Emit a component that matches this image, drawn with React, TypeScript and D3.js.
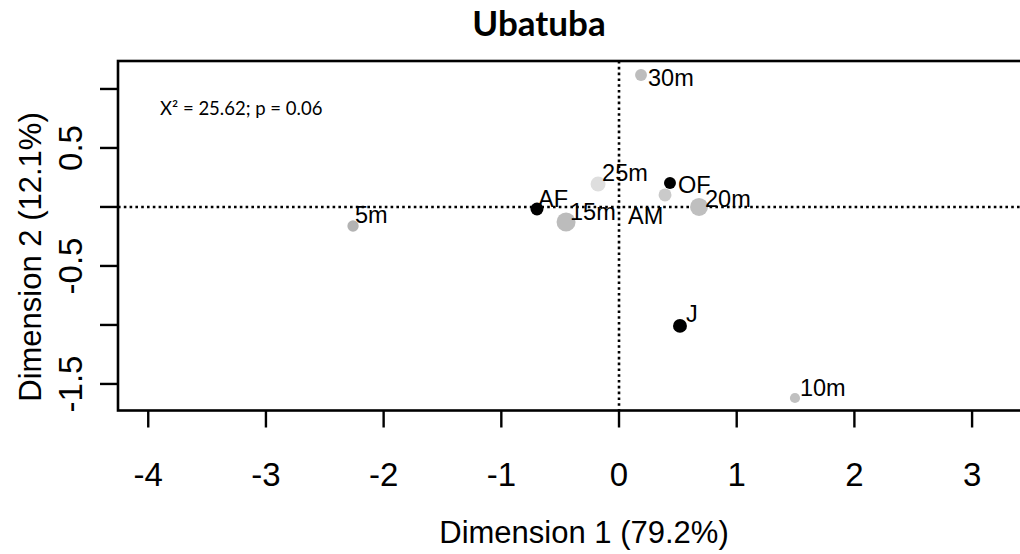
import React from 'react';
import * as d3 from 'd3';

// correspondence analysis coordinates
const labels = ['5m', '10m', '15m', '20m', '25m', '30m', 'AF', 'AM', 'OF', 'J'];
const dim1 = [-2.26, 1.495, -0.45, 0.68, -0.178, 0.187, -0.697, 0.391, 0.433, 0.518];
const dim2 = [-0.161, -1.619, -0.127, 0.0, 0.195, 1.119, -0.017, 0.102, 0.203, -1.008];
const mass = [0.05, 0.04, 0.14, 0.125, 0.087, 0.055, 0.065, 0.065, 0.055, 0.075];
const contrib = [0.066, 0.05, 0.055, 0.051, 0.01, 0.053, 0.4, 0.036, 0.35, 0.45];

const xTicks = [-4, -3, -2, -1, 0, 1, 2, 3];
const yTicks = [-1.5, -1, -0.5, 0, 0.5, 1];
const yTickLabels = ['-1.5', '', '-0.5', '', '0.5', ''];

const title = 'Ubatuba';
const xTitle = 'Dimension 1 (79.2%)';
const yTitle = 'Dimension 2 (12.1%)';
const statText = 'X² = 25.62; p = 0.06';

// label nudges in px (dx, dy) relative to each point
const labelNudge: [number, number][] = [
  [2, -3], [5, -2], [4, -2], [6, 0], [4, -3], [7, 11], [1, -2], [-37, 29], [8, 10], [6, -4],
];

const W = 1020;
const H = 554;
const plot = { left: 118, top: 61, right: 1050, bottom: 410.5 };

export default function App() {
  const x = d3.scaleLinear().domain([-4.257, 3.662]).range([plot.left, plot.right]);
  const y = d3.scaleLinear().domain([-1.725, 1.237]).range([plot.bottom, plot.top]);
  const r = d3.scaleSqrt().domain([0, 0.14]).range([0, 9.5]);
  const shade = d3.scaleLinear<string>().domain([0, 0.3]).range(['#e6e6e6', '#000000']).clamp(true);

  const font = '"Liberation Sans", Arial, sans-serif';
  const pts = labels.map((l, i) => ({ l, x: dim1[i], y: dim2[i], m: mass[i], c: contrib[i], n: labelNudge[i] }));

  return (
    <svg width={W} height={H} style={{ position: 'absolute', left: 0, top: 0, background: '#fff' }}
      fontFamily={font}>
      <text x={539} y={36} textAnchor="middle" fontFamily="Lato, 'Open Sans', sans-serif"
        fontWeight="bold" fontSize={35}>{title}</text>

      {/* reference lines through origin */}
      <line x1={plot.left} x2={plot.right} y1={y(0)} y2={y(0)} stroke="#000" strokeWidth={2.6}
        strokeDasharray="2.6 3.2" />
      <line x1={x(0)} x2={x(0)} y1={plot.top} y2={plot.bottom} stroke="#000" strokeWidth={2.6}
        strokeDasharray="2.6 3.2" />

      {pts.map(p => (
        <circle key={p.l} cx={x(p.x)} cy={y(p.y)} r={r(p.m)} fill={shade(p.c)} />
      ))}
      {pts.map(p => (
        <text key={p.l + 't'} x={x(p.x) + p.n[0]} y={y(p.y) + p.n[1]} fontSize={23.5}>{p.l}</text>
      ))}

      <text x={160} y={115} fontFamily="Lato, 'Open Sans', sans-serif" fontSize={18.5}>{statText}</text>

      {/* plot box */}
      <rect x={plot.left} y={plot.top} width={plot.right - plot.left} height={plot.bottom - plot.top}
        fill="none" stroke="#000" strokeWidth={2.6} />

      {/* x axis */}
      {xTicks.map(t => (
        <g key={'x' + t}>
          <line x1={x(t)} x2={x(t)} y1={plot.bottom} y2={plot.bottom + 17} stroke="#000" strokeWidth={2.4} />
          <text x={x(t)} y={486} textAnchor="middle" fontSize={33}>{t}</text>
        </g>
      ))}
      {/* y axis */}
      {yTicks.map((t, i) => (
        <g key={'y' + t}>
          <line x1={plot.left} x2={plot.left - 18} y1={y(t)} y2={y(t)} stroke="#000" strokeWidth={2.4} />
          <text transform={`translate(82,${y(t)}) rotate(-90)`} textAnchor="middle" fontSize={33}>
            {yTickLabels[i]}
          </text>
        </g>
      ))}

      <text x={584} y={543} textAnchor="middle" fontSize={31}>{xTitle}</text>
      <text transform={`translate(41,257) rotate(-90)`} textAnchor="middle" fontSize={31}>{yTitle}</text>
    </svg>
  );
}
